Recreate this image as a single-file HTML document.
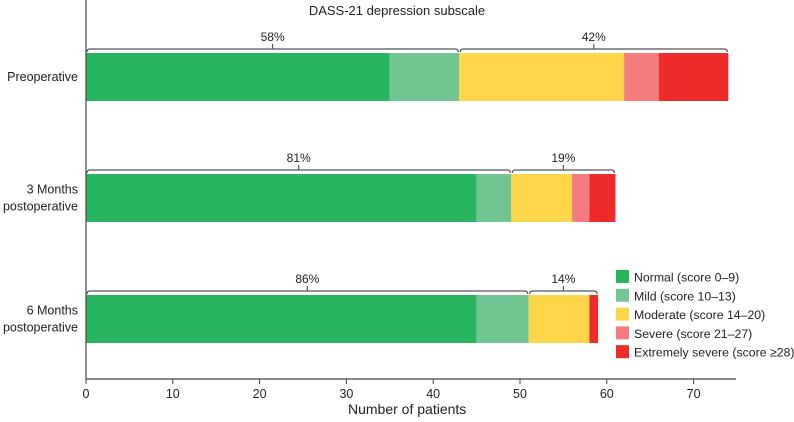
<!DOCTYPE html>
<html><head><meta charset="utf-8"><style>
body{margin:0;background:#fff}
svg text{font-family:"Liberation Sans",sans-serif;fill:#222}
</style></head><body>
<svg id="c" width="794" height="417"></svg>
<script>
const categories=["Preoperative","3 Months|postoperative","6 Months|postoperative"];
const normal=[35,45,45];
const mild=[8,4,6];
const moderate=[19,7,7];
const severe=[4,2,0];
const extreme=[8,3,1];
const pctLeft=["58%","81%","86%"];
const pctRight=["42%","19%","14%"];
const ticks=[0,10,20,30,40,50,60,70];
const seriesNames=["Normal (score 0–9)","Mild (score 10–13)","Moderate (score 14–20)","Severe (score 21–27)","Extremely severe (score ≥28)"];
const colors=["#29b45f","#72c694","#ffd54a","#f47c7e","#ef2a2a"];
const series=[normal,mild,moderate,severe,extreme];
const svg=document.getElementById('c');const NS="http://www.w3.org/2000/svg";
function x(v){return 86+v*8.68;}
function yTop(i){return 53+i*121;}
const BH=48;
const AXY=379;
function mk(t,a,name,p){const e=document.createElementNS(NS,t);for(const k in a)e.setAttribute(k,a[k]);


(p||svg).appendChild(e);return e;}
let t=mk('text',{x:397,y:15,'text-anchor':'middle','font-size':13},'chart-title');t.textContent="DASS-21 depression subscale";
categories.forEach((c,i)=>{
 let acc=0;
 series.forEach((s,k)=>{ if(s[i]>0){mk('rect',{x:x(acc),y:yTop(i),width:x(acc+s[i])-x(acc),height:BH,fill:colors[k]},'bar-'+k+'-'+i);} acc+=s[i];});
 const split=normal[i]+mild[i];
 const by=yTop(i)-4;
 function br(a,b,label,nm){
  const x1=x(a)+1,x2=x(b)-1,m=(x1+x2)/2;
  mk('path',{d:`M${x1} ${by+3}Q${x1} ${by} ${x1+3} ${by}L${x2-3} ${by}Q${x2} ${by} ${x2} ${by+3}M${m} ${by}L${m} ${by-5}`,stroke:'#555',fill:'none','stroke-width':1.2},nm+'-bracket');
  const tt=mk('text',{x:m,y:by-8,'text-anchor':'middle','font-size':12},nm+'-label');tt.textContent=label;
 }
 br(0,split,pctLeft[i],'pct-left-'+i);
 br(split,acc,pctRight[i],'pct-right-'+i);
 const parts=c.split('|');const cy=yTop(i)+BH/2;
 parts.forEach((p,j)=>{const tx=mk('text',{x:78,y:cy+4+(j-(parts.length-1)/2)*17,'text-anchor':'end','font-size':12.5},'category-label-'+i);tx.textContent=p;});
});
mk('line',{x1:86,y1:0,x2:86,y2:AXY,stroke:'#444','stroke-width':1.2},'y-axis');
mk('line',{x1:86,y1:AXY,x2:736,y2:AXY,stroke:'#444','stroke-width':1.2},'x-axis');
ticks.forEach(v=>{mk('line',{x1:x(v),y1:AXY,x2:x(v),y2:AXY+5,stroke:'#444'},'x-tick');
 const tt=mk('text',{x:x(v),y:AXY+19,'text-anchor':'middle','font-size':12.5},'x-tick-label');tt.textContent=v;});
t=mk('text',{x:x(37),y:414,'text-anchor':'middle','font-size':14},'x-axis-title');t.textContent="Number of patients";
seriesNames.forEach((n,k)=>{const yy=277+k*18.8;
 mk('rect',{x:616,y:yy-7,width:13,height:13,fill:colors[k]},'legend-swatch-'+k);
 const tt=mk('text',{x:634,y:yy+4.5,'font-size':12.3},'legend-entry-'+k);tt.textContent=n;});
</script>
</body></html>
